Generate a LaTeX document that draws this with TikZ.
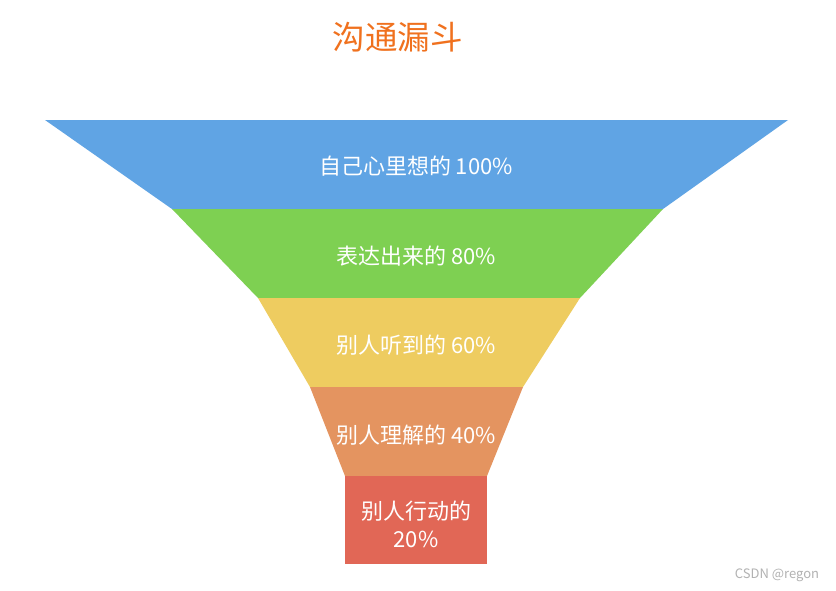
\documentclass[tikz,border=0pt]{standalone}
\usepackage{fontspec}
\setmainfont{Noto Sans CJK SC}
\definecolor{cblue}{HTML}{60A4E4}
\definecolor{cgreen}{HTML}{7ED052}
\definecolor{cyellow}{HTML}{EECC60}
\definecolor{corange}{HTML}{E49460}
\definecolor{cred}{HTML}{E16756}
\definecolor{ctitle}{HTML}{F0711E}
\tikzset{
  lbl/.style={text=white, font=\fontsize{22}{27}\selectfont, align=center, inner sep=0pt},
  seg/.style={draw=none}
}
\begin{document}
\begin{tikzpicture}[x=1pt,y=-1pt]
\useasboundingbox (0,0) rectangle (836,590);
\fill[white] (0,0) rectangle (836,590);
% funnel
\fill[cblue]   (45,120)  -- (788,120) -- (663,209) -- (172,209) -- cycle;
\fill[cgreen]  (172,209) -- (663,209) -- (580,298) -- (258,298) -- cycle;
\fill[cyellow] (258,298) -- (580,298) -- (523,387) -- (310,387) -- cycle;
\fill[corange] (310,387) -- (523,387) -- (487,476) -- (345,476) -- cycle;
\fill[cred]    (345,476) rectangle (487,564);
% labels
\node[text=ctitle, font=\fontsize{32.5}{38}\selectfont, inner sep=0pt] (title) at (397.5,37) {沟通漏斗};
\node[lbl] (l1) at (416,166) {自己心里想的 100\%};
\node[lbl] (l2) at (416,256) {表达出来的 80\%};
\node[lbl] (l3) at (416,345) {别人听到的 60\%};
\node[lbl] (l4) at (416,435) {别人理解的 40\%};
\node[lbl] (l5) at (416,524) {别人行动的\\[1pt]20\%};
\node[text=black!30, font=\fontsize{13}{15}\selectfont, inner sep=0pt] (wm) at (777,575) {CSDN @regon};
\end{tikzpicture}
\end{document}
